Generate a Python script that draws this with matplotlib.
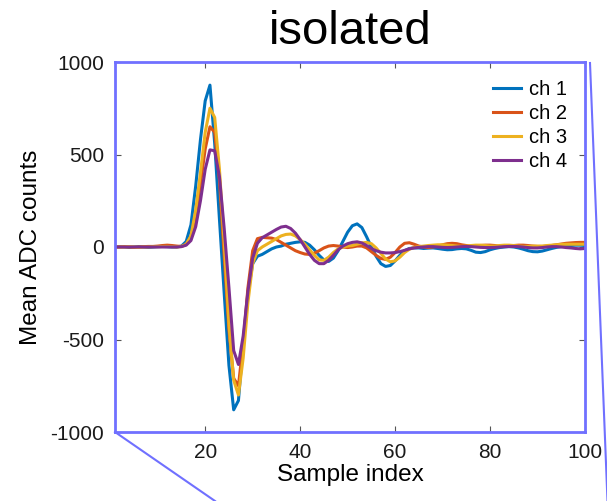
import numpy as np
import matplotlib
matplotlib.use('Agg')
import matplotlib.pyplot as plt
from matplotlib.lines import Line2D

plt.rcParams['font.family'] = ['Liberation Sans', 'DejaVu Sans']
plt.rcParams['axes.unicode_minus'] = False

# 采样点 1..100
sample = np.arange(1, 101)

ch1 = [0, 2, 0, -2, 0, 2, 0, -2, 0, 2, 3, 2, 0, 0, 5,
       30, 120, 330, 580, 790, 875, 560, 150, -250, -640,
       -880, -830, -520, -250, -90, -50, -40, -25, -10, 0,
       5, 15, 20, 25, 28, 25, 10, -15, -45, -70,
       -78, -60, -20, 30, 80, 115, 125, 105, 55, 0,
       -50, -90, -105, -100, -75, -45, -20, -8, -5, -5,
       -8, -6, -5, -8, -12, -15, -14, -10, -8, -10,
       -18, -28, -30, -25, -15, -8, -3, 0, 2, 0,
       -5, -12, -20, -25, -26, -22, -15, -8, -2, 2,
       5, 8, 10, 10, 8]
ch2 = [0, 0, 2, 0, -2, 0, 2, 3, 3, 5, 8, 10, 8, 5, 3,
       15, 55, 160, 340, 530, 650, 620, 360, -50, -450,
       -710, -750, -520, -220, -20, 45, 52, 50, 48, 40,
       25, 10, -5, -20, -30, -38, -40, -33, -20, -5,
       5, 8, 5, 0, -3, 0, 5, 5, -5, -25,
       -45, -62, -67, -55, -30, 0, 20, 23, 15, 5,
       0, -3, 0, 5, 12, 18, 20, 18, 12, 8,
       5, 5, 8, 10, 10, 8, 5, 3, 5, 8,
       10, 10, 8, 5, 3, 3, 5, 8, 12, 16,
       20, 22, 24, 25, 25]
ch3 = [0, 0, 0, 2, 0, -2, 0, 0, 2, 2, 3, 3, 2, 0, 3,
       15, 60, 200, 400, 620, 750, 700, 420, 20, -420,
       -720, -800, -600, -300, -90, -20, 0, 15, 30, 45,
       60, 68, 70, 60, 40, 15, -15, -45, -70, -72,
       -55, -30, -10, 0, 5, 8, 15, 22, 25, 18,
       -5, -35, -65, -80, -75, -55, -30, -12, -2, 2,
       5, 8, 10, 12, 12, 10, 8, 5, 3, 5,
       8, 10, 10, 8, 5, 5, 8, 10, 10, 8,
       5, 3, 3, 5, 5, 5, 8, 10, 12, 14,
       15, 15, 15, 15, 15]
ch4 = [0, 0, 0, 0, 0, 0, 0, 0, 0, 0, 0, 0, 0, 0, 2,
       10, 35, 110, 250, 420, 525, 520, 380, 100, -220,
       -560, -635, -480, -240, -60, 20, 50, 65, 80, 95,
       108, 112, 100, 75, 40, 0, -40, -72, -90, -90,
       -72, -45, -15, 5, 18, 25, 28, 22, 8, -8,
       -20, -28, -32, -32, -30, -25, -18, -10, -5, -2,
       0, 2, 2, 0, -2, -3, -2, 0, 2, 3,
       2, 0, -2, -3, -3, -2, 0, 2, 3, 3,
       2, 0, -3, -5, -5, -3, 0, 2, 2, 0,
       -3, -5, -8, -10, -8]

labels = ['ch 1', 'ch 2', 'ch 3', 'ch 4']
colors = ['#0072BD', '#D95319', '#EDB120', '#7E2F8E']
yticks = [-1000, -500, 0, 500, 1000]
xticks = [20, 40, 60, 80, 100]

box_color = '#7070FF'

fig = plt.figure(figsize=(6.07, 5.01), dpi=100)
ax = fig.add_axes([115 / 607, 69 / 501, 470 / 607, 370 / 501])

for data, lab, col in zip([ch1, ch2, ch3, ch4], labels, colors):
    ax.plot(sample, data, color=col, lw=2.2, label=lab)

ax.set_xlim(1, 100)
ax.set_ylim(-1000, 1000)
ax.set_xticks(xticks)
ax.set_yticks(yticks)
ax.tick_params(direction='in', top=True, right=True, length=4, width=0.8,
               color='#555555', labelsize=15, labelcolor='#1a1a1a', pad=8)
for sp in ax.spines.values():
    sp.set_color(box_color)
    sp.set_linewidth(2)

ax.set_title('isolated', fontsize=34, pad=13)
ax.set_xlabel('Sample index', fontsize=17.5, labelpad=1)
ax.set_ylabel('Mean ADC counts', fontsize=17.5, labelpad=6)

ax.legend(loc='upper right', frameon=False, fontsize=14.5, handlelength=1.4,
          handletextpad=0.4, labelspacing=0.25, borderaxespad=0.5)

# 放大框的引出线
fig.add_artist(Line2D([115 / 607, 215 / 607], [69 / 501, 0], color=box_color,
                      lw=1.5, transform=fig.transFigure))
fig.add_artist(Line2D([590 / 607, 607.5 / 607], [438 / 501, 0], color=box_color,
                      lw=1.5, transform=fig.transFigure))

fig.savefig('out.png', dpi=100)
